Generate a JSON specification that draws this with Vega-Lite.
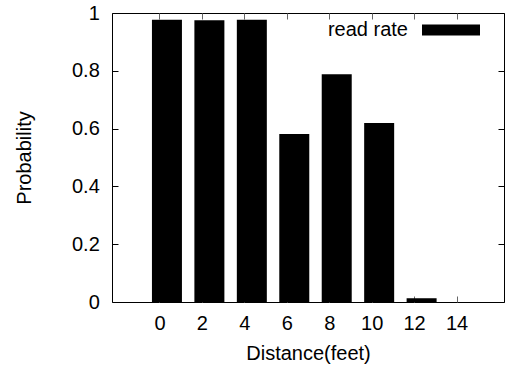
{
  "$schema": "https://vega.github.io/schema/vega-lite/v6.json",
  "width": 392,
  "height": 289,
  "autosize": "none",
  "padding": {"left": 112, "top": 13, "right": 1, "bottom": 65},
  "config": {
    "view": {"stroke": "black", "strokeWidth": 1},
    "font": "Liberation Sans",
    "axis": {
      "grid": false,
      "domain": false,
      "labelFont": "Liberation Sans",
      "labelFontSize": 20,
      "labelColor": "black",
      "titleFont": "Liberation Sans",
      "titleFontSize": 20,
      "titleFontWeight": "normal",
      "titleColor": "black"
    }
  },
  "data": {
    "values": [
      {"distance": 0, "rate": 0.977, "series": "read rate"},
      {"distance": 2, "rate": 0.975, "series": "read rate"},
      {"distance": 4, "rate": 0.977, "series": "read rate"},
      {"distance": 6, "rate": 0.581, "series": "read rate"},
      {"distance": 8, "rate": 0.788, "series": "read rate"},
      {"distance": 10, "rate": 0.619, "series": "read rate"},
      {"distance": 12, "rate": 0.013, "series": "read rate"},
      {"distance": 14, "rate": 0.0, "series": "read rate"}
    ]
  },
  "layer": [
    {
      "mark": {"type": "bar", "width": 30, "xOffset": 7.5},
      "encoding": {
        "x": {
          "field": "distance",
          "type": "quantitative",
          "scale": {"domain": [-2, 16], "nice": false, "zero": false},
          "axis": {
            "orient": "bottom",
            "values": [0, 2, 4, 6, 8, 10, 12, 14],
            "tickSize": -6,
            "tickColor": "#666666",
            "labelPadding": 17,
            "title": "Distance(feet)",
            "titlePadding": 10
          }
        },
        "y": {
          "field": "rate",
          "type": "quantitative",
          "scale": {"domain": [0, 1], "nice": false},
          "axis": {
            "orient": "left",
            "values": [0, 0.2, 0.4, 0.6, 0.8, 1],
            "format": "~g",
            "tickSize": -6,
            "tickColor": "black",
            "labelPadding": 18.7,
            "title": "Probability",
            "titlePadding": 37
          }
        },
        "color": {
          "field": "series",
          "type": "nominal",
          "scale": {"range": ["black"]},
          "legend": {
            "title": null,
            "orient": "none",
            "legendX": 310,
            "legendY": -12,
            "padding": 0,
            "symbolType": "M-1,-0.19H1V0.19H-1Z",
            "symbolSize": 3364,
            "symbolStrokeWidth": 0,
            "labelAlign": "right",
            "labelOffset": -72,
            "labelFont": "Liberation Sans",
            "labelFontSize": 20,
            "labelColor": "black",
            "labelLimit": 300
          }
        }
      }
    },
    {
      "mark": {"type": "point", "opacity": 0},
      "encoding": {
        "x": {
          "field": "distance",
          "type": "quantitative",
          "axis": {
            "orient": "top",
            "values": [0, 2, 4, 6, 8, 10, 12, 14],
            "tickSize": -6,
            "tickColor": "#666666",
            "labels": false,
            "title": null
          }
        },
        "y": {
          "field": "rate",
          "type": "quantitative",
          "axis": {
            "orient": "right",
            "values": [0, 0.2, 0.4, 0.6, 0.8, 1],
            "tickSize": -6,
            "tickColor": "black",
            "labels": false,
            "title": null
          }
        }
      }
    }
  ],
  "resolve": {"axis": {"x": "independent", "y": "independent"}}
}
